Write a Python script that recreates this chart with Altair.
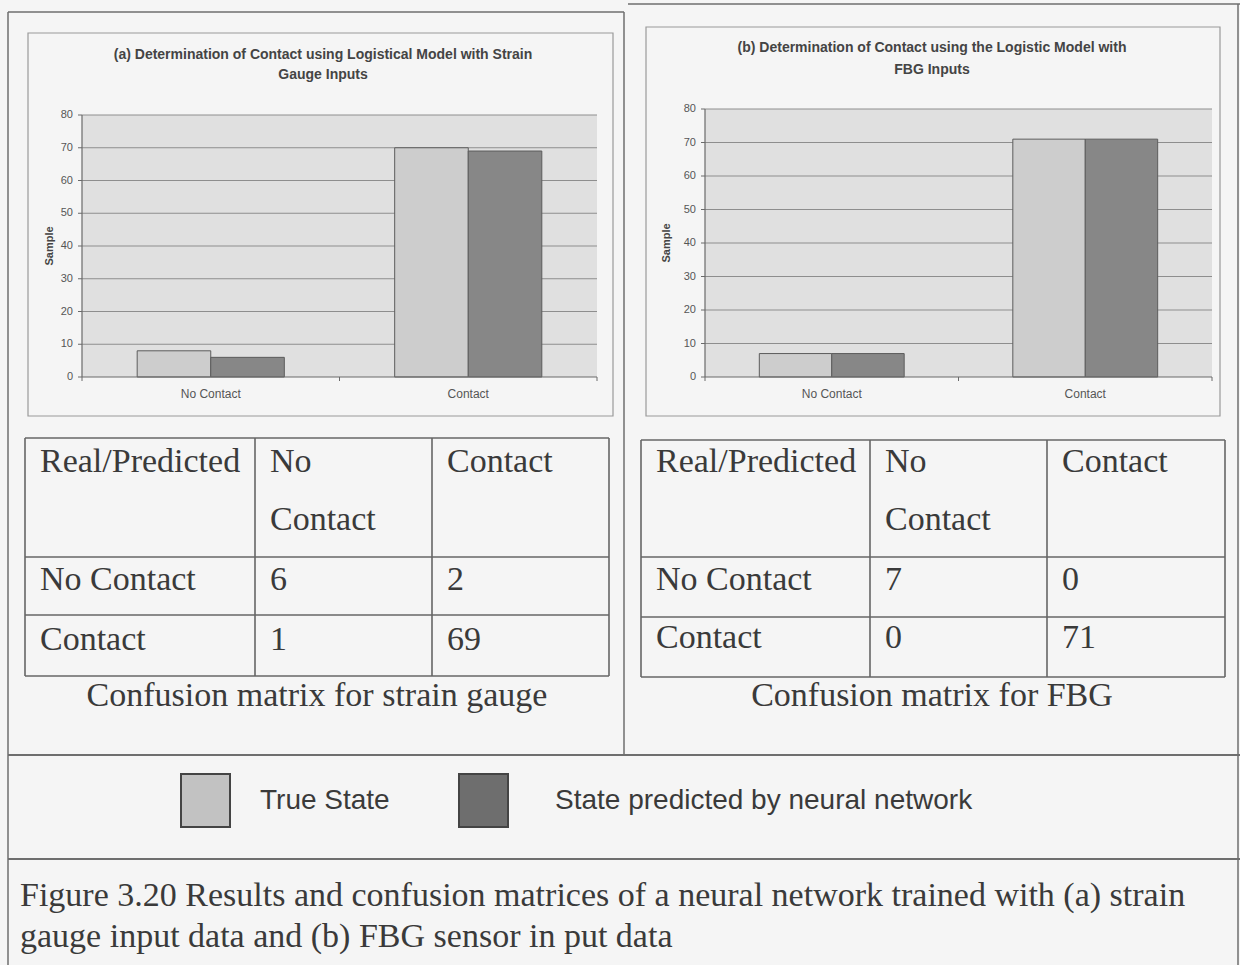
import altair as alt
import pandas as pd

# ---------------- data ----------------
CATEGORIES = ["No Contact", "Contact"]
SERIES = ["True State", "State predicted by neural network"]

STRAIN_TRUE = [8, 70]
STRAIN_PRED = [6, 69]
FBG_TRUE = [7, 71]
FBG_PRED = [7, 71]

Y_TICKS = [0, 10, 20, 30, 40, 50, 60, 70, 80]

HEADER_LINE1 = ["Real/Predicted", "No", "Contact"]
HEADER_LINE2 = ["", "Contact", ""]
ROW_LABELS = ["No Contact", "Contact"]
STRAIN_MATRIX = [[6, 2], [1, 69]]
FBG_MATRIX = [[7, 0], [0, 71]]

TITLE_A = ["(a) Determination of Contact using Logistical Model with Strain", "Gauge Inputs"]
TITLE_B = ["(b) Determination of Contact  using the Logistic Model with", "FBG Inputs"]
Y_TITLE = "Sample"
CAPTION_A = "Confusion matrix for strain gauge"
CAPTION_B = "Confusion matrix for FBG"
FIGURE_CAPTION = [
    "Figure 3.20 Results and confusion matrices of a neural network trained with (a) strain",
    "gauge input data and (b) FBG sensor in put data",
]

# ---------------- styling / layout ----------------
W, H = 1240, 965
BG = "#f5f5f5"
LINE = "#6e6e6e"
BAR_COLORS = ["#cdcdcd", "#878787"]
LEGEND_COLORS = ["#c2c2c2", "#6e6e6e"]
PLOT_BG = "#e0e0e0"
GRID = "#8e8e8e"
TEXT = "#3a3a3a"
SANS = "Liberation Sans"
SERIF = "Liberation Serif"
SERIF_SIZE = 34

PANEL_A = dict(box=(28, 33, 613, 416), plot=(82, 115, 597, 377),
               title_x=323, title_y=(55, 75), ytitle_x=50)
PANEL_B = dict(box=(646, 27, 1220, 416), plot=(705, 109, 1212, 377),
               title_x=932, title_y=(48, 70), ytitle_x=667)

TABLE_A = dict(cols=(25, 255, 432, 609), rows=(438, 557, 615, 676),
               base=(472, 530, 590, 650), cap_x=317, cap_y=706)
TABLE_B = dict(cols=(641, 870, 1047, 1225), rows=(440, 557, 617, 677),
               base=(472, 530, 590, 648), cap_x=932, cap_y=706)

ONE = alt.InlineData(values=[{}])


def px_x(field):
    return alt.X(f"{field}:Q", scale=alt.Scale(domain=[0, W], range=[0, W], nice=False, zero=False), axis=None)


def px_y(field):
    return alt.Y(f"{field}:Q", scale=alt.Scale(domain=[0, H], range=[0, H], nice=False, zero=False), axis=None)


def hline(x0, x1, y, color=LINE, width=1.5):
    return alt.Chart(ONE).mark_rule(color=color, strokeWidth=width).encode(
        x=alt.value(x0), x2=alt.value(x1), y=alt.value(y))


def vline(x, y0, y1, color=LINE, width=1.5):
    return alt.Chart(ONE).mark_rule(color=color, strokeWidth=width).encode(
        x=alt.value(x), y=alt.value(y0), y2=alt.value(y1))


def text_at(txt, x, y, size, font=SANS, weight="normal", align="left",
            baseline="alphabetic", color=TEXT, angle=0):
    kw = dict(text=txt, fontSize=size, font=font, fontWeight=weight, align=align,
              baseline=baseline, color=color)
    if angle:
        kw["angle"] = angle
    return alt.Chart(ONE).mark_text(**kw).encode(x=alt.value(x), y=alt.value(y))


def bar_panel(lay, true_vals, pred_vals, title_lines):
    bx0, by0, bx1, by1 = lay["box"]
    px0, py0, px1, py1 = lay["plot"]
    layers = []

    # chart frame and plot area
    layers.append(alt.Chart(ONE).mark_rect(fillOpacity=0, stroke="#9a9a9a", strokeWidth=1.2).encode(
        x=alt.value(bx0), x2=alt.value(bx1), y=alt.value(by0), y2=alt.value(by1)))
    layers.append(alt.Chart(ONE).mark_rect(color=PLOT_BG).encode(
        x=alt.value(px0), x2=alt.value(px1), y=alt.value(py0), y2=alt.value(py1)))

    y_scale = alt.Scale(domain=[0, 80], range=[py1, py0], nice=False, zero=True)
    x_scale = alt.Scale(domain=CATEGORIES, range=[px0, px1], paddingInner=0, paddingOuter=0)

    ticks = pd.DataFrame({"v": Y_TICKS})
    # horizontal gridlines
    layers.append(alt.Chart(ticks[ticks.v > 0]).mark_rule(color=GRID, strokeWidth=1).encode(
        y=alt.Y("v:Q", scale=y_scale, axis=None), x=alt.value(px0), x2=alt.value(px1)))

    # bars
    df = pd.DataFrame({
        "category": CATEGORIES * 2,
        "series": [SERIES[0]] * 2 + [SERIES[1]] * 2,
        "value": list(true_vals) + list(pred_vals),
    })
    layers.append(alt.Chart(df).mark_bar(stroke="#5c5c5c", strokeWidth=1, opacity=1).encode(
        x=alt.X("category:N", sort=CATEGORIES, scale=x_scale, axis=None),
        xOffset=alt.XOffset("series:N", sort=SERIES,
                            scale=alt.Scale(domain=SERIES, paddingInner=0, paddingOuter=0.75)),
        y=alt.Y("value:Q", scale=y_scale, axis=None),
        color=alt.Color("series:N", scale=alt.Scale(domain=SERIES, range=BAR_COLORS), legend=None),
    ))

    # axis lines and tick marks
    layers.append(vline(px0, py0, py1, color="#6a6a6a", width=1.2))
    layers.append(hline(px0, px1, py1, color="#6a6a6a", width=1.2))
    layers.append(alt.Chart(ticks).mark_rule(color="#6a6a6a", strokeWidth=1).encode(
        y=alt.Y("v:Q", scale=y_scale, axis=None), x=alt.value(px0 - 4), x2=alt.value(px0)))
    for xt in (px0, (px0 + px1) / 2, px1):
        layers.append(vline(xt, py1, py1 + 4, color="#6a6a6a", width=1))

    # tick labels
    layers.append(alt.Chart(ticks).mark_text(align="right", baseline="middle", fontSize=11,
                                             font=SANS, color="#555555").encode(
        y=alt.Y("v:Q", scale=y_scale, axis=None), x=alt.value(px0 - 9), text="v:Q"))
    cats = pd.DataFrame({"category": CATEGORIES})
    layers.append(alt.Chart(cats).mark_text(align="center", baseline="middle", fontSize=12,
                                            font=SANS, color="#555555").encode(
        x=alt.X("category:N", sort=CATEGORIES, scale=x_scale, axis=None, bandPosition=0.5),
        y=alt.value(py1 + 17), text="category:N"))

    # titles
    for line, ty in zip(title_lines, lay["title_y"]):
        layers.append(text_at(line, lay["title_x"], ty, 14, weight="bold", align="center",
                              baseline="middle", color="#444444"))
    layers.append(text_at(Y_TITLE, lay["ytitle_x"], (py0 + py1) / 2, 11, weight="bold",
                          align="center", baseline="middle", color="#444444", angle=270))
    return layers


def matrix_table(lay, matrix, caption):
    cols, rows, base = lay["cols"], lay["rows"], lay["base"]
    layers = []
    for x in cols:
        layers.append(vline(x, rows[0], rows[-1], color="#666666", width=1.6))
    for y in rows:
        layers.append(hline(cols[0], cols[-1], y, color="#666666", width=1.6))

    pad = 15
    recs = []
    for j in range(3):
        recs.append({"t": HEADER_LINE1[j], "px": cols[j] + pad, "py": base[0]})
        if HEADER_LINE2[j]:
            recs.append({"t": HEADER_LINE2[j], "px": cols[j] + pad, "py": base[1]})
    for i, label in enumerate(ROW_LABELS):
        recs.append({"t": label, "px": cols[0] + pad, "py": base[2 + i]})
        for j, v in enumerate(matrix[i]):
            recs.append({"t": str(v), "px": cols[1 + j] + pad, "py": base[2 + i]})
    cells = pd.DataFrame(recs)
    layers.append(alt.Chart(cells).mark_text(align="left", baseline="alphabetic", fontSize=SERIF_SIZE,
                                             font=SERIF, color=TEXT).encode(
        x=px_x("px"), y=px_y("py"), text="t:N"))
    layers.append(text_at(caption, lay["cap_x"], lay["cap_y"], SERIF_SIZE, font=SERIF, align="center"))
    return layers


layers = []

# page frame
layers += [
    hline(8, 624, 12),
    hline(628, W, 4),
    vline(8, 12, H),
    vline(1238, 4, H),
    vline(624, 12, 755),
    hline(8, W, 755, width=2),
    hline(8, W, 859, width=2),
]

layers += bar_panel(PANEL_A, STRAIN_TRUE, STRAIN_PRED, TITLE_A)
layers += bar_panel(PANEL_B, FBG_TRUE, FBG_PRED, TITLE_B)
layers += matrix_table(TABLE_A, STRAIN_MATRIX, CAPTION_A)
layers += matrix_table(TABLE_B, FBG_MATRIX, CAPTION_B)

# legend for the two series
LEGEND_BOX_X = [181, 459]
LEGEND_TEXT_X = [260, 555]
leg = pd.DataFrame({"series": SERIES, "x0": LEGEND_BOX_X,
                    "x1": [x + 49 for x in LEGEND_BOX_X], "tx": LEGEND_TEXT_X})
layers.append(alt.Chart(leg).mark_rect(stroke="#444444", strokeWidth=2).encode(
    x=px_x("x0"), x2="x1:Q", y=alt.value(774), y2=alt.value(827),
    color=alt.Color("series:N", scale=alt.Scale(domain=SERIES, range=LEGEND_COLORS), legend=None)))
layers.append(alt.Chart(leg).mark_text(align="left", baseline="middle", fontSize=28, font=SANS,
                                       color=TEXT).encode(
    x=px_x("tx"), y=alt.value(801), text="series:N"))

# figure caption
layers.append(text_at(FIGURE_CAPTION[0], 20, 906, SERIF_SIZE, font=SERIF))
layers.append(text_at(FIGURE_CAPTION[1], 20, 947, SERIF_SIZE, font=SERIF))

chart = alt.layer(*layers).resolve_scale(
    x="independent", y="independent", color="independent", xOffset="independent"
).properties(
    width=W, height=H, padding=0, autosize="none", background=BG
).configure_view(stroke=None)

chart.save("out.html", embed_options={"renderer": "svg", "actions": False})
